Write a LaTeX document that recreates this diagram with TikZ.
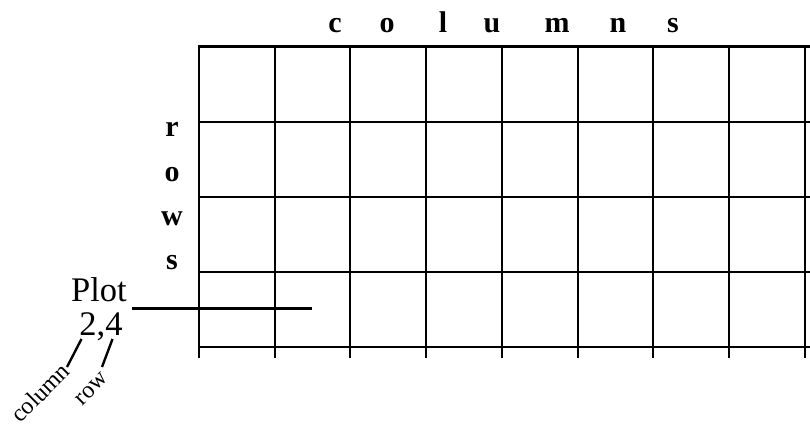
\documentclass[tikz,border=0pt]{standalone}
\usepackage{fontspec}
\setmainfont{Liberation Serif}
\begin{document}
\begin{tikzpicture}[x=1pt,y=1pt,
  gridline/.style={line width=2pt,black},
  heavy/.style={line width=2.8pt,black},
  lead/.style={line width=2.4pt,black},
  axislet/.style={inner sep=0pt,anchor=base,font=\fontsize{30}{30}\selectfont\bfseries},
  plotlbl/.style={inner sep=0pt,anchor=base,font=\fontsize{34.5}{34.5}\selectfont},
  smalllbl/.style={inner sep=0pt,font=\fontsize{24}{24}\selectfont,rotate=45}]
\useasboundingbox (0,0) rectangle (810,427);
% grid verticals
\foreach \i in {0,...,8}{
  \draw[gridline] (199+75.7*\i,380.5) -- (199+75.7*\i,69);
}
% grid horizontals
\draw[line width=2.4pt] (198,380.5) -- (810,380.5);
\foreach \j in {1,...,4}{
  \draw[gridline] (199,380.5-75.2*\j) -- (810,380.5-75.2*\j);
}
% column letters
\node[axislet] (c1) at (335,394) {c};
\node[axislet] (c2) at (387,394) {o};
\node[axislet] (c3) at (443,394) {l};
\node[axislet] (c4) at (492,394) {u};
\node[axislet] (c5) at (557,394) {m};
\node[axislet] (c6) at (618,394) {n};
\node[axislet] (c7) at (673,394) {s};
% row letters
\node[axislet] (r1) at (172,290) {r};
\node[axislet] (r2) at (172,245) {o};
\node[axislet] (r3) at (172,201) {w};
\node[axislet] (r4) at (172,157) {s};
% plot label
\node[plotlbl] (plot) at (99,125.3) {Plot};
\node[plotlbl] (pt) at (101,91.5) {2,4};
\coordinate (pl0) at (131.7,118.6);
\coordinate (pl1) at (311.7,118.6);
\draw[heavy] (pl0) -- (pl1);
% leaders
\node[smalllbl] (col) at (40,34.5) {column};
\node[smalllbl] (row) at (92,38) {row};
\coordinate (cl0) at (67,60);
\coordinate (cl1) at (81.5,88);
\coordinate (rl0) at (102,60);
\coordinate (rl1) at (112.5,88);
\draw[lead] (cl0) -- (cl1);
\draw[lead] (rl0) -- (rl1);
\end{tikzpicture}
\end{document}
